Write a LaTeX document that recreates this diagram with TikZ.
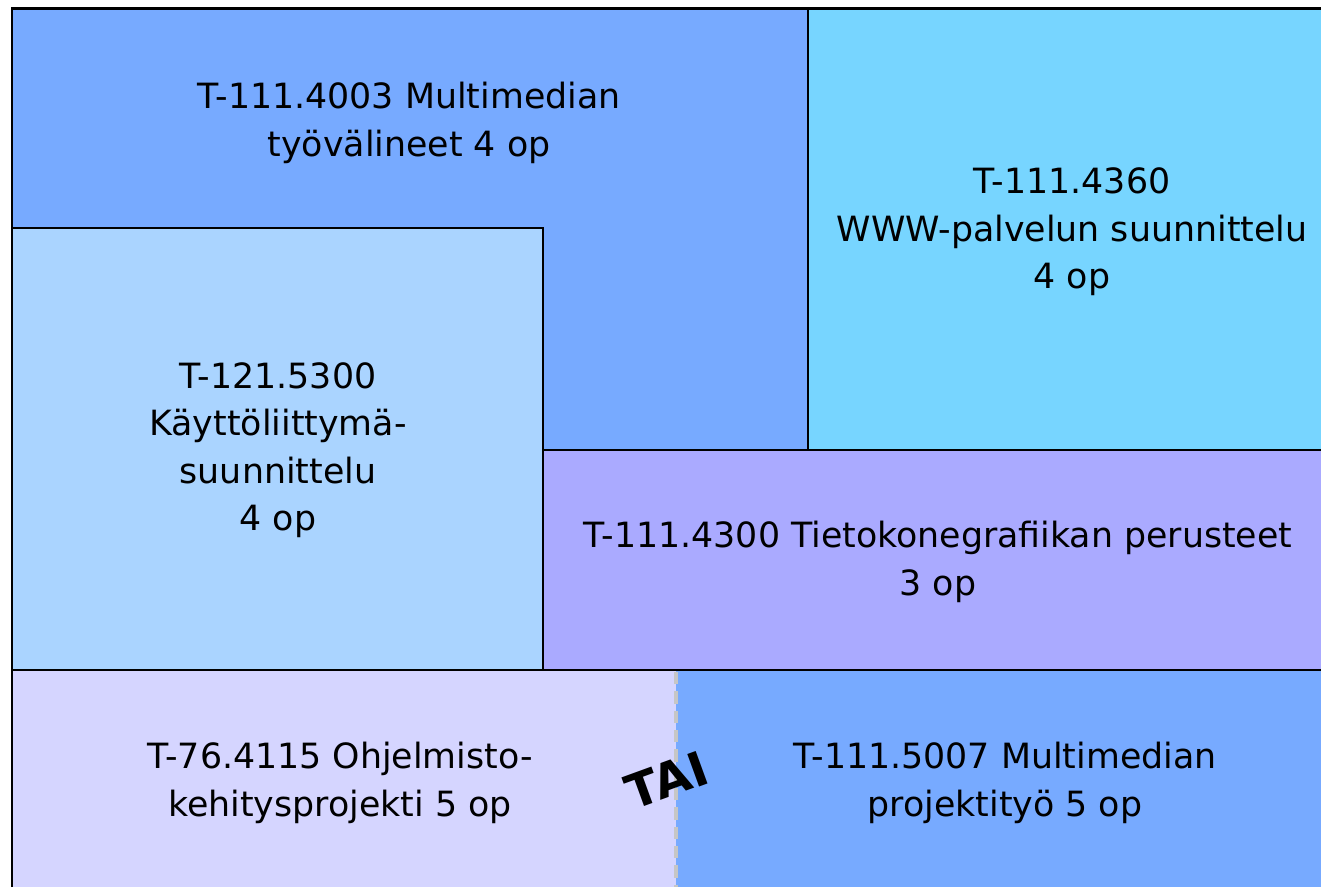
\documentclass[tikz,border=0pt]{standalone}
\usepackage{fontspec}
\setmainfont{DejaVu Sans}
\definecolor{mmblue}{HTML}{77AAFF}
\definecolor{wwwcyan}{HTML}{77D5FF}
\definecolor{uiblue}{HTML}{AAD4FF}
\definecolor{cgviolet}{HTML}{AAAAFF}
\definecolor{swlilac}{HTML}{D5D5FF}
\tikzset{
  course/.style={draw=black, line width=1.1pt},
  label/.style={align=center, font=\fontsize{19.8}{27}\selectfont, text=black},
}
\begin{document}
\begin{tikzpicture}[x=0.02cm, y=-0.02cm]
\useasboundingbox (0,0) rectangle (1321,887);
% course boxes
\fill[white] (0,0) rectangle (1321,887);
\draw[course, fill=mmblue] (12,8) rectangle (808,450);
\draw[course, fill=wwwcyan] (808,8) rectangle (1330,450);
\draw[course, fill=uiblue] (12,228) rectangle (543,670);
\draw[course, fill=cgviolet] (543,450) rectangle (1330,670);
\fill[swlilac] (12,670) rectangle (676,887);
\fill[mmblue] (676,670) rectangle (1321,887);
\draw[gray!45, line width=1.8pt, dash pattern=on 7pt off 4pt] (676,672) -- (676,887);
\draw[course] (12,670) -- (1321,670);
\draw[black, line width=1.7pt] (12,887) -- (12,8) -- (1321,8);
% texts
\node[label] (mmtools) at (409,123) {T-111.4003 Multimedian\\työvälineet 4 op};
\node[label] (www) at (1072,232) {T-111.4360\\WWW-palvelun suunnittelu\\4 op};
\node[label] (ui) at (278,450) {T-121.5300\\Käyttöliittymä-\\suunnittelu\\4 op};
\node[label] (cg) at (938,562) {T-111.4300 Tietokonegrafiikan perusteet\\3 op};
\node[label] (swproj) at (340,783) {T-76.4115 Ohjelmisto-\\kehitysprojekti 5 op};
\node[label] (mmproj) at (1005,783) {T-111.5007 Multimedian\\projektityö 5 op};
\node[label, font=\fontsize{27}{30}\selectfont\bfseries, rotate=20] (or) at (667,780) {TAI};
\end{tikzpicture}
\end{document}
